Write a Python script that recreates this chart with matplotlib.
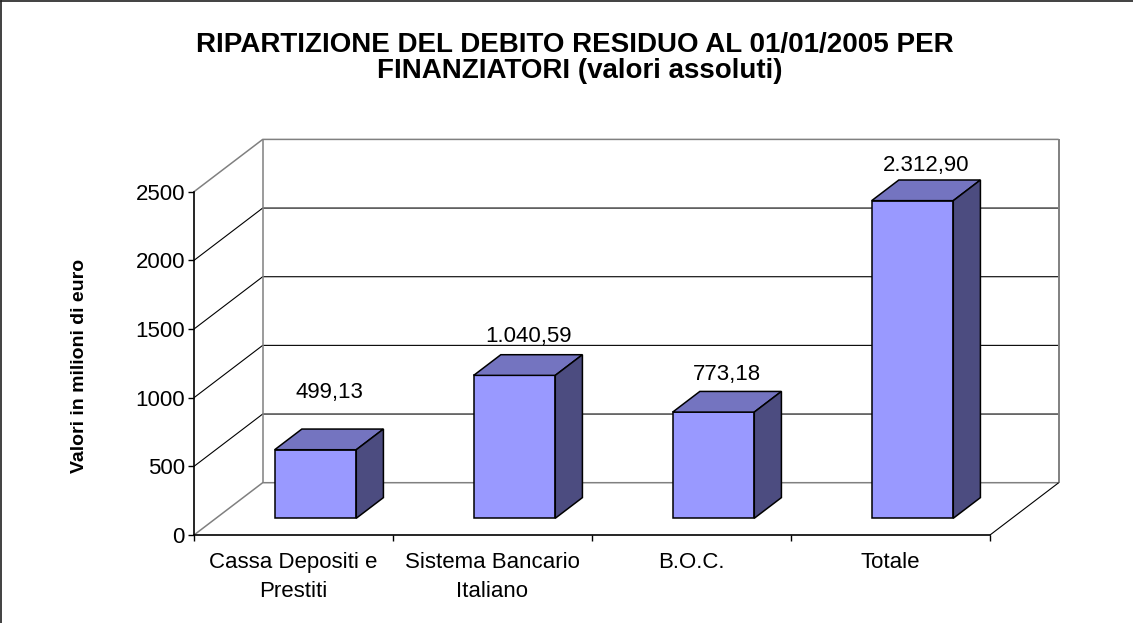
import matplotlib
matplotlib.use("Agg")
import matplotlib.pyplot as plt
from matplotlib.patches import Polygon
from matplotlib.lines import Line2D
from matplotlib.transforms import IdentityTransform

# ---------------- data ----------------
categories = ["Cassa Depositi e\nPrestiti", "Sistema Bancario\nItaliano", "B.O.C.", "Totale"]
values = [499.13, 1040.59, 773.18, 2312.90]
value_labels = ["499,13", "1.040,59", "773,18", "2.312,90"]
yticks = [0, 500, 1000, 1500, 2000, 2500]
title_lines = ["RIPARTIZIONE DEL DEBITO RESIDUO AL 01/01/2005 PER",
               "FINANZIATORI (valori assoluti)"]
ylabel = "Valori in milioni di euro"

# ---------------- layout / style ----------------
W, H, DPI = 1133, 623, 100
DEPTH = (68.7, 52.3)          # depth offset of back wall, pixels
BAR_D0, BAR_D1 = 0.32, 0.715  # bar depth span (fraction of depth)
BAR_W = 0.41                  # bar width (fraction of category)
LABEL_OFF = [47, 29, 27, 25]  # label offsets above bar top, pixels
FRONT = "#9999FF"
TOP = "#7474C0"
SIDE = "#4C4C80"
GRAY = "#808080"
FS = 16

plt.rcParams["font.family"] = ["Liberation Sans", "DejaVu Sans"]

fig = plt.figure(figsize=(W / DPI, H / DPI), dpi=DPI)
fig.patch.set_facecolor("white")
ax = fig.add_axes([194 / W, (H - 535) / H, 796 / W, (535 - 191.7) / H])
ax.set_xlim(0, len(categories))
ax.set_ylim(yticks[0], yticks[-1])
ax.patch.set_visible(False)
for s in ["top", "right"]:
    ax.spines[s].set_visible(False)
ax.spines["left"].set_linewidth(1.2)
ax.spines["bottom"].set_linewidth(1.2)

ax.set_yticks(yticks)
ax.set_yticklabels([str(t) for t in yticks])
ax.tick_params(axis="y", direction="out", length=4.3, width=1.0, labelsize=FS, pad=2.2)
ax.set_xticks(range(len(categories) + 1))
ax.set_xticklabels([])
ax.set_xticks([i + 0.5 for i in range(len(categories))], minor=True)
ax.set_xticklabels(categories, minor=True, fontsize=FS, linespacing=1.5)
ax.tick_params(axis="x", which="major", direction="out", length=4.3, width=1.0)
ax.tick_params(axis="x", which="minor", length=0, pad=12)

fig.canvas.draw()
ID = IdentityTransform()


def P(x, y, d):
    px, py = ax.transData.transform((x, y))
    return (px + d * DEPTH[0], py + d * DEPTH[1])


def line(pts, color, lw, z=1):
    ax.add_line(Line2D([p[0] for p in pts], [p[1] for p in pts], color=color,
                       lw=lw, transform=ID, clip_on=False, zorder=z,
                       solid_capstyle="butt"))


n = len(categories)
# wall gridlines
for v in yticks:
    edge = v in (yticks[0], yticks[-1])
    line([P(0, v, 0), P(0, v, 1), P(n, v, 1)], GRAY if edge else "black",
         1.1 if edge else 0.8)
line([P(0, 0, 1), P(0, yticks[-1], 1)], GRAY, 1.1)
line([P(n, 0, 1), P(n, yticks[-1], 1)], GRAY, 1.4)
line([P(n, 0, 0), P(n, 0, 1)], "black", 0.8)

# bars
for i, v in enumerate(values):
    x0, x1 = i + 0.5 - BAR_W / 2, i + 0.5 + BAR_W / 2
    faces = [
        ([P(x0, 0, BAR_D0), P(x1, 0, BAR_D0), P(x1, v, BAR_D0), P(x0, v, BAR_D0)], FRONT),
        ([P(x0, v, BAR_D0), P(x1, v, BAR_D0), P(x1, v, BAR_D1), P(x0, v, BAR_D1)], TOP),
        ([P(x1, 0, BAR_D0), P(x1, 0, BAR_D1), P(x1, v, BAR_D1), P(x1, v, BAR_D0)], SIDE),
    ]
    for pts, c in faces:
        ax.add_patch(Polygon(pts, closed=True, facecolor=c, edgecolor="black",
                             lw=1.1, transform=ID, clip_on=False, zorder=3,
                             joinstyle="miter"))
    lx, ly = P(i + 0.5, v, (BAR_D0 + BAR_D1) / 2)
    ax.text(lx, ly + LABEL_OFF[i], value_labels[i], transform=ID, ha="center",
            va="center", fontsize=FS, zorder=4)

# titles and axis label
fig.text(575 / W, 1 - 51.7 / H, title_lines[0], ha="center", va="baseline",
         fontsize=20, fontweight="bold")
fig.text(580 / W, 1 - 77.7 / H, title_lines[1], ha="center", va="baseline",
         fontsize=20, fontweight="bold")
fig.text(79 / W, 1 - 366 / H, ylabel, rotation=90, ha="center", va="center",
         fontsize=14, fontweight="bold")

# chart-area border (left and top visible)
fig.add_artist(Line2D([1.0 / W, 1.0 / W], [0, 1 - 1.0 / H], color="#202020", lw=1.2,
                      transform=fig.transFigure))
fig.add_artist(Line2D([1.0 / W, 1], [1 - 1.0 / H, 1 - 1.0 / H], color="#202020", lw=1.2,
                      transform=fig.transFigure))

fig.savefig("out.png", dpi=DPI)
